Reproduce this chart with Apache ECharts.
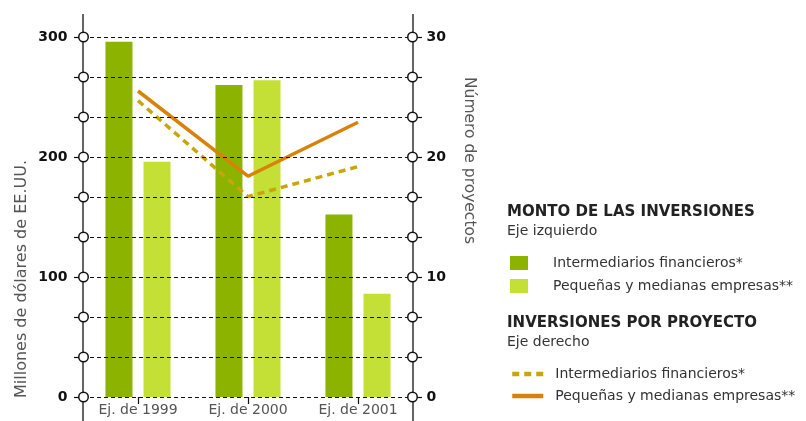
<!DOCTYPE html>
<html><head><meta charset="utf-8">
<script src="https://cdn.jsdelivr.net/npm/echarts@6/dist/echarts.min.js"></script>
<style>html,body{margin:0;padding:0;background:#fff}#c{width:806px;height:421px}</style>
</head><body><div id="c"></div>
<script>
const categories = ['Ej. de 1999', 'Ej. de 2000', 'Ej. de 2001'];
const montoIntermediarios = [296, 260, 152];
const montoPymes = [196, 264, 86];
const proyIntermediarios = [24.7, 16.7, 19.2];
const proyPymes = [25.5, 18.4, 22.9];
const leftTicks = {min: 0, max: 300, interval: 100 / 3, labelEvery: 100};
const rightTicks = {min: 0, max: 30, interval: 10 / 3, labelEvery: 10};

const FONT = '"DejaVu Sans", sans-serif';
const G = {left: 83, right: 393, top: 37, bottom: 24};
const names = {
  b1: 'Intermediarios financieros*', b2: 'Pequeñas y medianas empresas**',
  l1: 'Intermediarios financieros*', l2: 'Pequeñas y medianas empresas**'
};
const circle = {width: 8, height: 8, borderRadius: 5, borderColor: '#111', borderWidth: 1.5, backgroundColor: '#fff'};
const tickText = {fontSize: 14, fontWeight: 'bold', color: '#111', fontFamily: FONT};
const isLabel = (v, every) => Math.abs(v / every - Math.round(v / every)) < 1e-6;

const chart = echarts.init(document.getElementById('c'));
const axisX = [G.left, 806 - G.right];
chart.setOption({
  animation: false,
  textStyle: {fontFamily: FONT},
  grid: {left: G.left, right: G.right, top: G.top, bottom: G.bottom, containLabel: false},
  xAxis: {
    type: 'category', data: categories, boundaryGap: true,
    axisLine: {show: false},
    axisTick: {show: true, alignWithLabel: true, length: 7, lineStyle: {color: '#111', width: 1.2}},
    axisLabel: {color: '#555', fontSize: 14, margin: 6, fontFamily: FONT}
  },
  yAxis: [{
    type: 'value', min: leftTicks.min, max: leftTicks.max, interval: leftTicks.interval, z: 5,
    axisLine: {show: false},
    axisTick: {show: true, length: 9, lineStyle: {color: '#111', width: 1.2}},
    splitLine: {show: true, lineStyle: {color: '#111', type: [4, 3], width: 1.2}},
    axisLabel: {
      margin: -4.5, align: 'right', showMinLabel: true, showMaxLabel: true,
      formatter: v => (isLabel(v, leftTicks.labelEvery) ? '{t|' + Math.round(v) + '}{g|}' : '') + '{c|}',
      rich: {t: tickText, g: {width: 12}, c: circle}
    }
  }, {
    type: 'value', min: rightTicks.min, max: rightTicks.max, interval: rightTicks.interval, z: 5,
    axisLine: {show: false},
    axisTick: {show: true, length: 9, lineStyle: {color: '#111', width: 1.2}},
    splitLine: {show: false},
    axisLabel: {
      margin: -4.5, align: 'left', showMinLabel: true, showMaxLabel: true,
      formatter: v => '{c|}' + (isLabel(v, rightTicks.labelEvery) ? '{g|}{t|' + Math.round(v) + '}' : ''),
      rich: {t: tickText, g: {width: 10}, c: circle}
    }
  }],
  legend: [{
    data: ['b1', 'b2'], orient: 'vertical', left: 505, top: 251,
    itemWidth: 18, itemHeight: 14, itemGap: 9, icon: 'rect', selectedMode: false,
    formatter: n => names[n],
    textStyle: {fontSize: 14, color: '#333', padding: [0, 0, 0, 20], fontFamily: FONT}
  }, {
    data: ['l1', 'l2'], orient: 'vertical', left: 505, top: 362,
    itemWidth: 31, itemHeight: 14, itemGap: 8, selectedMode: false,
    itemStyle: {opacity: 0}, lineStyle: {width: 4.5},
    formatter: n => names[n],
    textStyle: {fontSize: 14, color: '#333', padding: [0, 0, 0, 7], fontFamily: FONT}
  }],
  graphic: [
    {type: 'line', z: 0, shape: {x1: axisX[0], y1: 14, x2: axisX[0], y2: 421}, style: {stroke: '#111', lineWidth: 1.3}},
    {type: 'line', z: 0, shape: {x1: axisX[1], y1: 14, x2: axisX[1], y2: 421}, style: {stroke: '#111', lineWidth: 1.3}},
    {type: 'text', x: 22, y: 398, rotation: Math.PI / 2, style: {text: 'Millones de dólares de EE.UU.', font: '16px ' + FONT, fill: '#555', textAlign: 'left', textVerticalAlign: 'middle'}},
    {type: 'text', x: 469, y: 77, rotation: -Math.PI / 2, style: {text: 'Número de proyectos', font: '15.5px ' + FONT, fill: '#555', textAlign: 'left', textVerticalAlign: 'middle'}},
    {type: 'text', left: 507, top: 205, style: {text: 'MONTO DE LAS INVERSIONES', font: 'bold 15px ' + FONT, fill: '#222'}},
    {type: 'text', left: 507, top: 224, style: {text: 'Eje izquierdo', font: '14px ' + FONT, fill: '#333'}},
    {type: 'text', left: 507, top: 316, style: {text: 'INVERSIONES POR PROYECTO', font: 'bold 15px ' + FONT, fill: '#222'}},
    {type: 'text', left: 507, top: 335, style: {text: 'Eje derecho', font: '14px ' + FONT, fill: '#333'}}
  ],
  series: [
    {name: 'b1', type: 'bar', data: montoIntermediarios, yAxisIndex: 0, barWidth: 27, barGap: '41%', itemStyle: {color: '#8BB300'}, z: 2},
    {name: 'b2', type: 'bar', data: montoPymes, yAxisIndex: 0, barWidth: 27, barGap: '41%', itemStyle: {color: '#C4DF36'}, z: 2},
    {name: 'l1', type: 'line', data: proyIntermediarios, yAxisIndex: 1, symbol: 'none', z: 3,
      lineStyle: {color: '#C8A60A', width: 3.5, type: [7, 5]}, itemStyle: {color: '#C8A60A'}},
    {name: 'l2', type: 'line', data: proyPymes, yAxisIndex: 1, symbol: 'none', z: 4,
      lineStyle: {color: '#D9820A', width: 3.5}, itemStyle: {color: '#D9820A'}}
  ]
});
</script></body></html>
